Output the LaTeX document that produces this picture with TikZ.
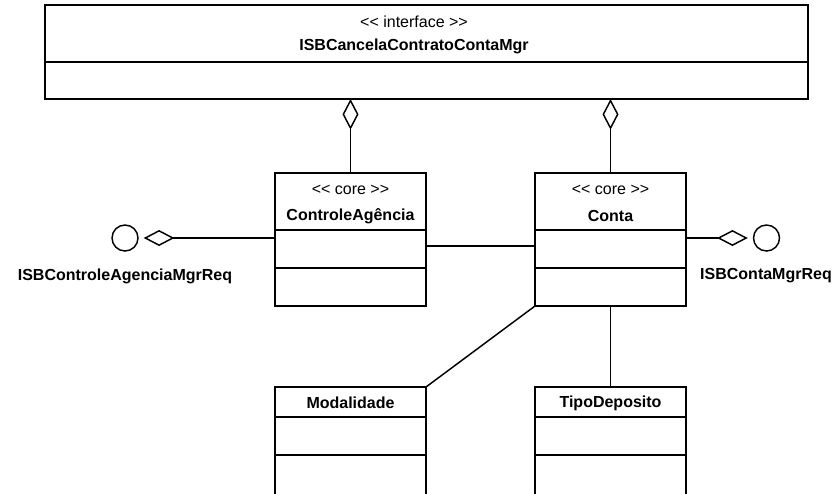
\documentclass[tikz,border=0pt]{standalone}
\usepackage{fontspec}
\setmainfont{Liberation Sans}
\usetikzlibrary{arrows.meta}

\begin{document}
\begin{tikzpicture}[x=0.75pt, y=-0.75pt,
  every node/.style={font=\fontsize{12}{14}\selectfont},
  umlline/.style={line width=1.1pt, draw=black},
  classbox/.style={umlline, rectangle, inner sep=0pt, outer sep=0pt,
    minimum width=113.25pt, minimum height=99.75pt},
  ifacebox/.style={umlline, rectangle, inner sep=0pt, outer sep=0pt,
    minimum width=572.25pt, minimum height=70.5pt},
  stereo/.style={inner sep=0pt},
  cname/.style={inner sep=0pt, font=\fontsize{12}{14}\selectfont\bfseries},
  lollipop/.style={umlline, circle, inner sep=0pt, minimum size=19.5pt},
  agg/.style={umlline, -{Diamond[open, length=23pt, width=12pt]}},
  assoc/.style={umlline}
]
\useasboundingbox (0,0) rectangle (838,493);
\clip (0,0) rectangle (838,493);

% separator heights
\coordinate (sI) at (0,62);
\coordinate (sA) at (0,230);
\coordinate (sB) at (0,268);
\coordinate (sC) at (0,417);
\coordinate (sD) at (0,455);
\coordinate (assocY) at (0,246);

% interface class
\node[ifacebox] (iface) at (426.5,52) {};
\draw[umlline] (iface.west |- sI) -- (iface.east |- sI);
\node[stereo] (ifaceSt) at (414,22) {<{}< interface >{}>};
\node[cname] (ifaceNm) at (414,46) {ISBCancelaContratoContaMgr};

% core classes
\node[classbox] (ctrl) at (350.5,239.5) {};
\draw[umlline] (ctrl.west |- sA) -- (ctrl.east |- sA);
\draw[umlline] (ctrl.west |- sB) -- (ctrl.east |- sB);
\node[stereo] (ctrlSt) at (350.5,190) {<{}< core >{}>};
\node[cname] (ctrlNm) at (350.5,216) {ControleAgência};

\node[classbox] (conta) at (610.5,239.5) {};
\draw[umlline] (conta.west |- sA) -- (conta.east |- sA);
\draw[umlline] (conta.west |- sB) -- (conta.east |- sB);
\node[stereo] (contaSt) at (610.5,190) {<{}< core >{}>};
\node[cname] (contaNm) at (610.5,216) {Conta};

% lower classes
\node[classbox] (modal) at (350.5,453.5) {};
\draw[umlline] (modal.west |- sC) -- (modal.east |- sC);
\draw[umlline] (modal.west |- sD) -- (modal.east |- sD);
\node[cname] (modalNm) at (350.5,403) {Modalidade};

\node[classbox] (tipo) at (610.5,453.5) {};
\draw[umlline] (tipo.west |- sC) -- (tipo.east |- sC);
\draw[umlline] (tipo.west |- sD) -- (tipo.east |- sD);
\node[cname] (tipoNm) at (610.5,403) {TipoDeposito};

% provided interfaces
\node[lollipop] (ictrl) at (125,238) {};
\node[cname] (ictrlLb) at (125,276) {ISBControleAgenciaMgrReq};
\node[lollipop] (iconta) at (766.5,238) {};
\node[cname] (icontaLb) at (766,276) {ISBContaMgrReq};

% aggregations
\draw[agg] (ctrl.north) -- (ctrl.north |- iface.south);
\draw[agg] (conta.north) -- (conta.north |- iface.south);
\draw[agg, shorten >=3.75pt] (ctrl.west |- ictrl) -- (ictrl);
\draw[agg, shorten >=3.75pt] (conta.east |- iconta) -- (iconta);

% associations
\draw[assoc] (ctrl.east |- assocY) -- (conta.west |- assocY);
\draw[assoc] (conta.south west) -- (modal.north east);
\draw[assoc] (conta.south) -- (tipo.north);
\end{tikzpicture}
\end{document}
